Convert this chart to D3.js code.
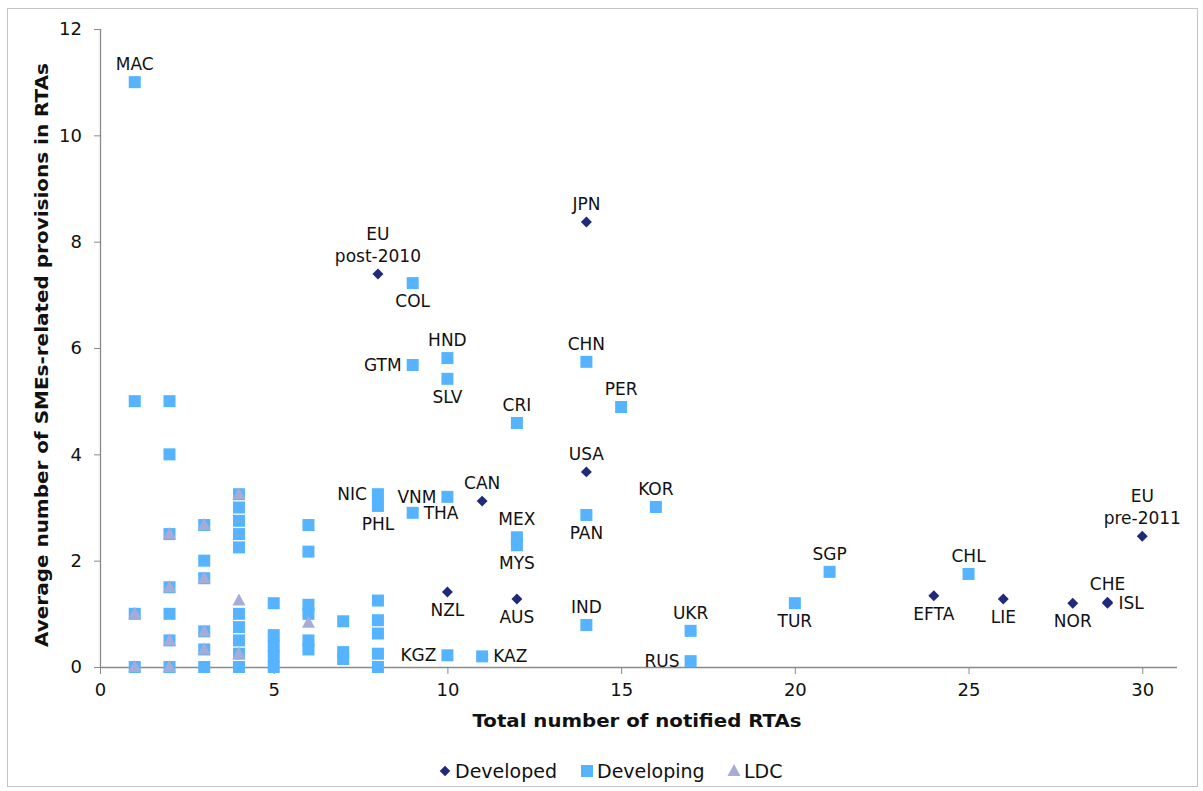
<!DOCTYPE html>
<html>
<head>
<meta charset="utf-8">
<script src="https://cdn.jsdelivr.net/npm/d3@7"></script>
<style>
  html, body { margin: 0; padding: 0; background: #fff; }
  svg text { font-family: "DejaVu Sans", Verdana, sans-serif; fill: #111; }
</style>
</head>
<body>
<svg id="chart" width="1203" height="791"></svg>
<script>
// ---- Data ----
const xTicks = [0, 5, 10, 15, 20, 25, 30];
const yTicks = [0, 2, 4, 6, 8, 10, 12];
const seriesNames = ["Developed", "Developing", "LDC"];

// Developed economies: [code, RTAs, avg SME provisions]
const developed = [
  ["EU\npost-2010", 8, 7.39],
  ["JPN", 14, 8.37],
  ["USA", 14, 3.67],
  ["CAN", 11, 3.12],
  ["NZL", 10, 1.41],
  ["AUS", 12, 1.28],
  ["EFTA", 24, 1.34],
  ["LIE", 26, 1.28],
  ["NOR", 28, 1.20],
  ["CHE", 29, 1.22],
  ["ISL", 29, 1.20],
  ["EU\npre-2011", 30, 2.46]
];

// Developing economies (labelled)
const developingLabelled = [
  ["MAC", 1, 11.0],
  ["COL", 9, 7.22],
  ["HND", 10, 5.81],
  ["GTM", 9, 5.68],
  ["SLV", 10, 5.42],
  ["CHN", 14, 5.74],
  ["PER", 15, 4.89],
  ["CRI", 12, 4.59],
  ["KOR", 16, 3.01],
  ["NIC", 8, 3.25],
  ["PHL", 8, 3.03],
  ["VNM", 10, 3.20],
  ["THA", 9, 2.90],
  ["MEX", 12, 2.44],
  ["MYS", 12, 2.29],
  ["PAN", 14, 2.86],
  ["SGP", 21, 1.79],
  ["CHL", 25, 1.75],
  ["TUR", 20, 1.20],
  ["UKR", 17, 0.68],
  ["RUS", 17, 0.11],
  ["IND", 14, 0.79],
  ["KGZ", 10, 0.22],
  ["KAZ", 11, 0.20]
];

// Developing economies (unlabelled): [RTAs, avg]
const developingOther = [
  [1, 5.0], [1, 1.0], [1, 0],
  [2, 5.0], [2, 4.0], [2, 2.5], [2, 1.5], [2, 1.0], [2, 0.5], [2, 0],
  [3, 2.67], [3, 2.0], [3, 1.67], [3, 0.67], [3, 0.33], [3, 0],
  [4, 3.25], [4, 3.0], [4, 2.75], [4, 2.5], [4, 2.25], [4, 1.0], [4, 0.75], [4, 0.5], [4, 0.25], [4, 0],
  [5, 1.2], [5, 0.6], [5, 0.4], [5, 0.2], [5, 0],
  [6, 2.67], [6, 2.17], [6, 1.17], [6, 1.0], [6, 0.5], [6, 0.33],
  [7, 0.86], [7, 0.28], [7, 0.15],
  [8, 1.25], [8, 0.88], [8, 0.63], [8, 0.25], [8, 0]
];

// Least developed countries: [RTAs, avg]
const ldc = [
  [1, 1.0], [1, 0],
  [2, 2.5], [2, 1.5], [2, 0.5], [2, 0],
  [3, 2.67], [3, 1.67], [3, 0.67], [3, 0.33],
  [4, 3.25], [4, 1.25], [4, 0.25],
  [6, 0.83]
];

// Label placement relative to marker
const labelPos = {
  "EU\npost-2010": "above", "JPN": "above", "USA": "above", "CAN": "above",
  "NZL": "below", "AUS": "below", "EFTA": "below", "LIE": "below", "NOR": "below",
  "CHE": "above", "ISL": "right", "EU\npre-2011": "above",
  "MAC": "above", "COL": "below", "HND": "above", "GTM": "left", "SLV": "below",
  "CHN": "above", "PER": "above", "CRI": "above", "KOR": "above", "NIC": "left",
  "PHL": "below", "VNM": "left", "THA": "right", "MEX": "above", "MYS": "below",
  "PAN": "below", "SGP": "above", "CHL": "above", "TUR": "below", "UKR": "above",
  "RUS": "left", "IND": "above", "KGZ": "left", "KAZ": "right"
};

// ---- Styles ----
const colDeveloped = "#1f2b7a";
const colDeveloping = "#55b3ff";
const colLDC = "#a6acd8";
const axisCol = "#8a8a8a";

const svg = d3.select("#chart");
const margin = { left: 100, right: 26, top: 29, bottom: 124 };
const W = 1203, H = 791;

const x = d3.scaleLinear().domain([0, 31]).range([margin.left, W - margin.right]);
const y = d3.scaleLinear().domain([0, 12]).range([H - margin.bottom, margin.top]);

// outer frame
svg.append("rect").attr("x", 7.5).attr("y", 8.5).attr("width", 1190).attr("height", 778)
  .attr("fill", "none").attr("stroke", "#c4c4c4").attr("stroke-width", 1);

// axes
const xAxis = d3.axisBottom(x).tickValues(xTicks).tickSize(7).tickPadding(9).tickFormat(d3.format("d"));
const yAxis = d3.axisLeft(y).tickValues(yTicks).tickSize(6).tickPadding(12).tickFormat(d3.format("d"));

const gx = svg.append("g").attr("transform", `translate(0,${y(0)})`).call(xAxis);
const gy = svg.append("g").attr("transform", `translate(${x(0)},0)`).call(yAxis);
[gx, gy].forEach(g => {
  g.select(".domain").attr("stroke", axisCol).attr("stroke-width", 1.3);
  g.selectAll(".tick line").attr("stroke", axisCol);
  g.selectAll(".tick text").attr("font-size", 18).attr("fill", "#111")
    .style("font-family", '"DejaVu Sans", Verdana, sans-serif');
});
gx.select(".domain").attr("d", `M${x(0)},0.5H${x(31)}`);
gy.select(".domain").attr("d", `M0.5,${y(0)}V${y(12)}`);

// axis titles
svg.append("text").attr("x", 637).attr("y", 727)
  .attr("text-anchor", "middle").attr("font-size", 18.5).attr("font-weight", "bold")
  .attr("textLength", 329).attr("lengthAdjust", "spacingAndGlyphs")
  .text("Total number of notified RTAs");
svg.append("text").attr("transform", `translate(48,355) rotate(-90)`)
  .attr("text-anchor", "middle").attr("font-size", 18.5).attr("font-weight", "bold")
  .attr("textLength", 584).attr("lengthAdjust", "spacingAndGlyphs")
  .text("Average number of SMEs-related provisions in RTAs");

// symbols
const sq = 12;
const triPath = (cx, cy) => `M${cx},${cy - 7}L${cx + 6.5},${cy + 5}L${cx - 6.5},${cy + 5}Z`;

const gPts = svg.append("g");
// developed
gPts.selectAll("path.dev").data(developed).enter().append("path")
  .attr("class", "dev")
  .attr("transform", d => `translate(${x(d[1])},${y(d[2])}) rotate(45)`)
  .attr("d", d3.symbol().type(d3.symbolSquare).size(60))
  .attr("fill", colDeveloped);

// developing
const devAll = developingLabelled.map(d => [d[1], d[2]]).concat(developingOther);
gPts.selectAll("rect.dvg").data(devAll).enter().append("rect")
  .attr("class", "dvg")
  .attr("x", d => x(d[0]) - sq / 2).attr("y", d => y(d[1]) - sq / 2)
  .attr("width", sq).attr("height", sq).attr("fill", colDeveloping);

// LDC
gPts.selectAll("path.ldc").data(ldc).enter().append("path")
  .attr("class", "ldc")
  .attr("d", d => triPath(x(d[0]), y(d[1])))
  .attr("fill", colLDC);

// labels
const labelled = developed.concat(developingLabelled);
const gLab = svg.append("g").attr("font-size", 17);
labelled.forEach(d => {
  const px = x(d[1]), py = y(d[2]);
  const pos = labelPos[d[0]];
  const lines = d[0].split("\n");
  const t = gLab.append("text");
  let anchor = "middle", tx = px, ty = py;
  if (pos === "above") { ty = py - 12 - (lines.length - 1) * 22; }
  else if (pos === "below") { ty = py + 24; }
  else if (pos === "left") { anchor = "end"; tx = px - 11; ty = py + 6; }
  else if (pos === "right") { anchor = "start"; tx = px + 11; ty = py + 6; }
  t.attr("text-anchor", anchor);
  lines.forEach((ln, i) => {
    t.append("tspan").attr("x", tx).attr("y", ty + i * 22).text(ln);
  });
});

// legend
const lg = svg.append("g").attr("font-size", 19);
const legendY = 771;
const legendX = [445, 587, 734];
seriesNames.forEach((name, i) => {
  const g = lg.append("g").attr("transform", `translate(${legendX[i]},${legendY})`);
  if (i === 0) g.append("path").attr("d", d3.symbol().type(d3.symbolSquare).size(56)).attr("transform", "rotate(45)").attr("fill", colDeveloped);
  if (i === 1) g.append("rect").attr("x", -6).attr("y", -6).attr("width", 12).attr("height", 12).attr("fill", colDeveloping);
  if (i === 2) g.append("path").attr("d", triPath(0, 0)).attr("fill", colLDC);
  g.append("text").attr("x", 10).attr("y", 7).text(name);
});
</script>
</body>
</html>
